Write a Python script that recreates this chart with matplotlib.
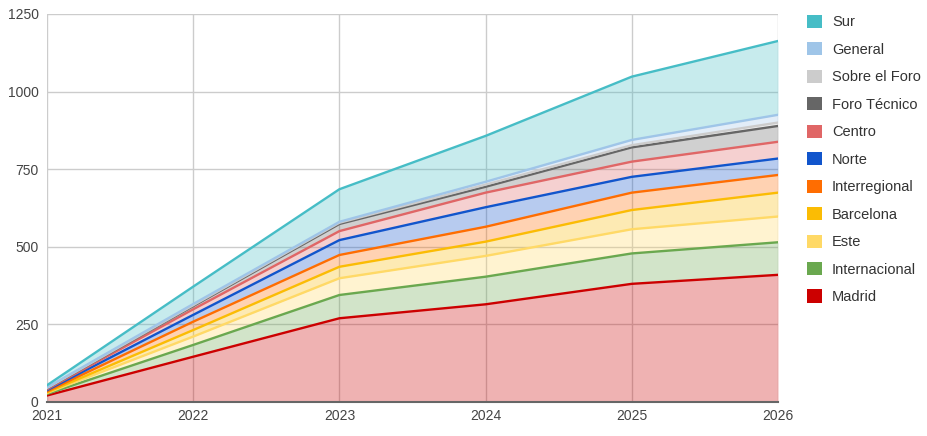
import numpy as np
import matplotlib
matplotlib.use("Agg")
import matplotlib.pyplot as plt
from matplotlib.patches import Patch

# ─────────────────────────────────────────────
# DATA (values per series, stacked bottom -> top)
# ─────────────────────────────────────────────

years = [2021, 2022, 2023, 2024, 2025, 2026]

series_names = ["Madrid", "Internacional", "Este", "Barcelona", "Interregional",
                "Norte", "Centro", "Foro Técnico", "Sobre el Foro", "General", "Sur"]

madrid        = [20, 145, 269, 314, 380, 409]
internacional = [5, 38, 75, 89, 98, 105]
este          = [3, 27, 54, 67, 78, 83]
barcelona     = [2, 21, 37, 46, 62, 77]
interregional = [3, 27, 38, 48, 56, 57]
norte         = [4, 22, 48, 63, 51, 53]
centro        = [3, 18, 29, 47, 49, 54]
foro_tecnico  = [3, 10, 23, 19, 46, 51]
sobre_foro    = [1, 3, 4, 7, 7, 11]
general       = [2, 4, 3, 9, 17, 25]
sur           = [7, 56, 105, 148, 204, 238]

colors = ["#cc0000", "#6aa84f", "#ffd966", "#fbbc04", "#ff6d01",
          "#1155cc", "#e06666", "#666666", "#cccccc", "#9fc5e8", "#46bdc6"]

y_ticks = [0, 250, 500, 750, 1000, 1250]

# ─────────────────────────────────────────────
# PLOT
# ─────────────────────────────────────────────

plt.rcParams["font.family"] = ["Liberation Sans", "DejaVu Sans"]

values = np.array([madrid, internacional, este, barcelona, interregional, norte,
                   centro, foro_tecnico, sobre_foro, general, sur], dtype=float)
tops = np.cumsum(values, axis=0)

fig = plt.figure(figsize=(9.28, 4.36), dpi=100)
ax = fig.add_axes([47 / 928, (436 - 401.7) / 436, (778 - 47) / 928, (401.7 - 14) / 436])

bottom = np.zeros(len(years))
for i, name in enumerate(series_names):
    ax.fill_between(years, bottom, tops[i], color=colors[i], alpha=0.3, linewidth=0, zorder=2)
    bottom = tops[i]
for i, name in enumerate(series_names):
    ax.plot(years, tops[i], color=colors[i], linewidth=1.7, zorder=3,
            solid_joinstyle="round")

ax.set_xlim(years[0], years[-1])
ax.set_ylim(0, 1250)
ax.set_xticks(years)
ax.set_yticks(y_ticks)
ax.grid(True, color="#cccccc", linewidth=1, zorder=0)
ax.set_axisbelow(True)
for side in ["top", "right", "left"]:
    ax.spines[side].set_visible(False)
ax.spines["bottom"].set_color("#666666")
ax.spines["bottom"].set_linewidth(1.5)
ax.spines["bottom"].set_zorder(4)
ax.tick_params(length=0, labelsize=10, labelcolor="#444444")
ax.tick_params(axis="y", pad=6)
ax.tick_params(axis="x", pad=5)

handles = [Patch(facecolor=colors[i], edgecolor="none") for i in range(len(series_names))][::-1]
labels = series_names[::-1]
fig.legend(handles, labels, loc="upper left", bbox_to_anchor=(794 / 928, 1 - 1.5 / 436),
           frameon=False, fontsize=10.5, labelcolor="#333333",
           handlelength=1.03, handleheight=1.03, handletextpad=0.68, labelspacing=0.88)

fig.savefig("out.png", dpi=100)
